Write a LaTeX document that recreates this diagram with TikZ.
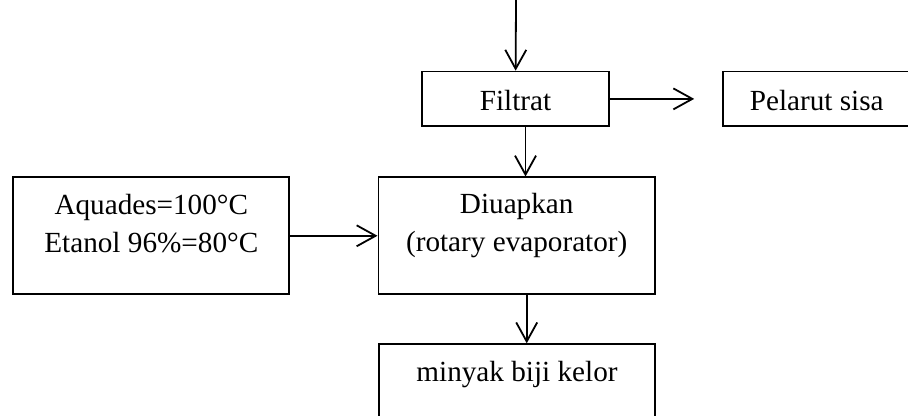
\documentclass[tikz,border=0pt]{standalone}
\usepackage{fontspec}
\setmainfont{Liberation Serif}
\usetikzlibrary{arrows.meta}

\begin{document}
\begin{tikzpicture}[x=0.5pt, y=-0.5pt, line width=0.9pt,
    font=\fontsize{14.6}{19}\selectfont,
    kotak/.style={draw, anchor=north, align=center, inner sep=0pt},
    panah/.style={-{Straight Barb[length=9.5pt, width=10.5pt]}}]
  \clip (0,0) rectangle (908,416);
  \coordinate (masuk) at (516,0);
  \node[kotak, minimum width=93.8pt, text height=19.6pt, text depth=7.7pt] (filtrat) at (515.5,70.7) {Filtrat};
  \node[kotak, minimum width=94pt, text height=19.6pt, text depth=7.7pt] (sisa) at (816.7,70.7) {Pelarut sisa};
  \node[kotak, minimum width=138pt, text height=37.6pt, text depth=20.8pt] (bahan) at (151.3,176.5) {Aquades=100°C\\Etanol 96\%=80°C};
  \node[kotak, minimum width=138.3pt, text height=36.9pt, text depth=21.5pt] (uap) at (516.7,176.5) {Diuapkan\\(rotary evaporator)};
  \node[kotak, minimum width=138pt, text height=18.5pt, text depth=40pt] (minyak) at (517,343.3) {minyak biji kelor};
  % alur proses
  \draw[panah] (masuk) -- (filtrat);
  \draw[panah, shorten >=13.8pt] (filtrat) -- (sisa);
  \draw[panah] ([xshift=5pt]filtrat.south) -- ([xshift=5pt]filtrat.south |- uap.north);
  \draw[panah] (bahan) -- (uap);
  \draw[panah] ([xshift=5pt]uap.south) -- ([xshift=5pt]uap.south |- minyak.north);
\end{tikzpicture}
\end{document}
